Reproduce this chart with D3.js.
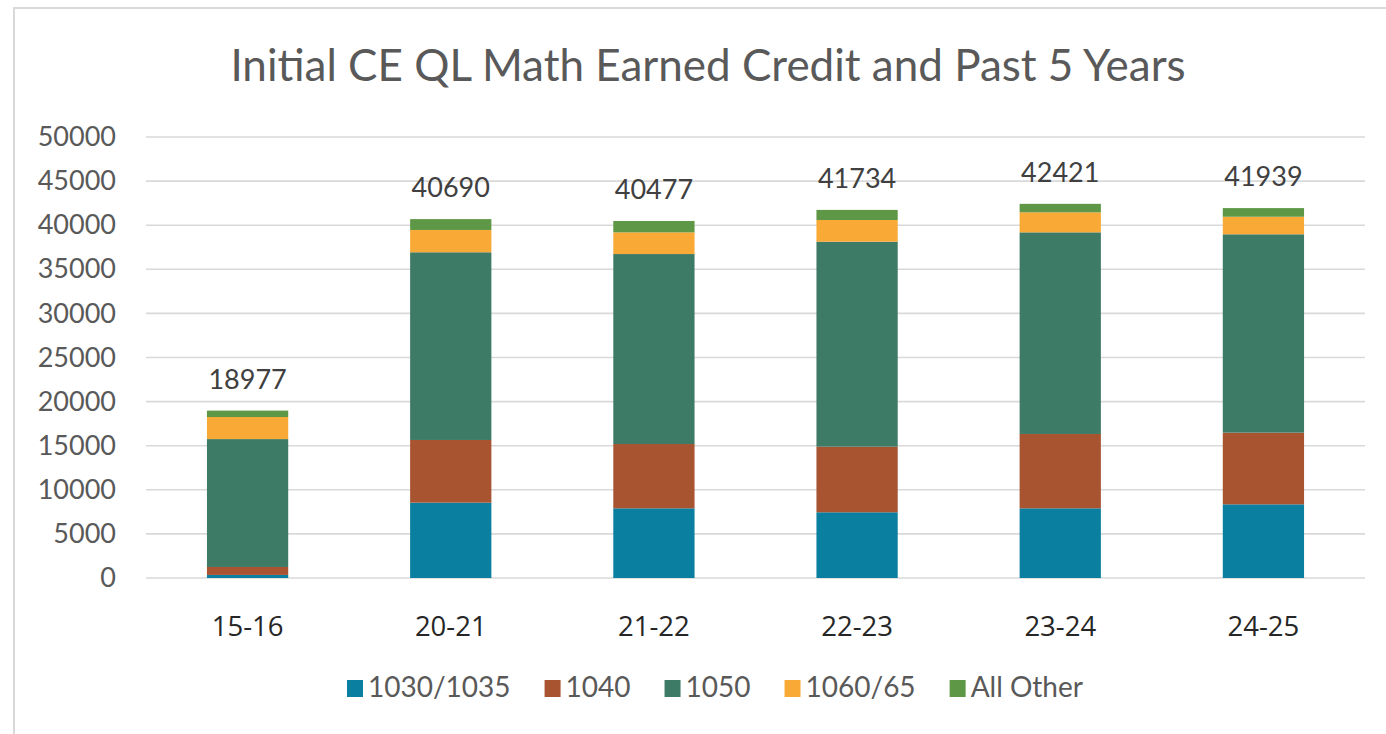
<!DOCTYPE html>
<html>
<head>
<meta charset="utf-8">
<script src="https://cdn.jsdelivr.net/npm/d3@7"></script>
<style>
  body { margin: 0; background: #fff; }
  svg { display: block; }
</style>
</head>
<body>
<div id="chart"></div>
<script>
const years = ["15-16", "20-21", "21-22", "22-23", "23-24", "24-25"];
const seriesNames = ["1030/1035", "1040", "1050", "1060/65", "All Other"];
const seriesColors = ["#0a7fa0", "#a85431", "#3e7b67", "#f9aa36", "#5e9846"];

// one array per series, same order as years
const v1030 = [350, 8540, 7900, 7450, 7900, 8350];
const v1040 = [900, 7110, 7290, 7440, 8430, 8130];
const v1050 = [14500, 21280, 21540, 23240, 22860, 22490];
const v1060 = [2500, 2530, 2460, 2460, 2270, 1990];
const vOther = [727, 1230, 1287, 1144, 961, 979];
const totals = [18977, 40690, 40477, 41734, 42421, 41939];

const yTicks = [0, 5000, 10000, 15000, 20000, 25000, 30000, 35000, 40000, 45000, 50000];

const width = 1386;
const height = 734;
const plot = { left: 146, right: 1365, top: 137, bottom: 578 };

const svg = d3.select("#chart")
  .append("svg")
  .attr("width", width)
  .attr("height", height);

// chart frame (only left/top edges visible in the picture)
svg.append("path")
  .attr("d", `M14,${height} L14,8 L${width},8`)
  .attr("fill", "none")
  .attr("stroke", "#d9d9d9")
  .attr("stroke-width", 2);

const rows = years.map((y, i) => ({
  year: y,
  "1030/1035": v1030[i],
  "1040": v1040[i],
  "1050": v1050[i],
  "1060/65": v1060[i],
  "All Other": vOther[i],
  total: totals[i]
}));

const x = d3.scaleBand()
  .domain(years)
  .range([plot.left, plot.right])
  .padding(0);

const y = d3.scaleLinear()
  .domain([0, 50000])
  .range([plot.bottom, plot.top]);

const color = d3.scaleOrdinal().domain(seriesNames).range(seriesColors);

// gridlines
svg.append("g")
  .selectAll("line")
  .data(yTicks)
  .enter()
  .append("line")
  .attr("x1", plot.left)
  .attr("x2", plot.right)
  .attr("y1", d => y(d))
  .attr("y2", d => y(d))
  .attr("stroke", "#d9d9d9")
  .attr("stroke-width", 1.6);

// y axis labels
const yAxis = d3.axisLeft(y).tickValues(yTicks).tickSize(0).tickPadding(30).tickFormat(d3.format("d"));
svg.append("g")
  .attr("transform", `translate(${plot.left},0)`)
  .call(yAxis)
  .call(g => g.select(".domain").remove())
  .call(g => g.selectAll("text")
    .attr("font-family", "Lato, sans-serif")
    .attr("font-size", 27)
    .attr("fill", "#595959"));

// stacked bars
const stack = d3.stack().keys(seriesNames);
const layers = stack(rows);
const barW = x.bandwidth() * 0.4;

svg.append("g")
  .selectAll("g")
  .data(layers)
  .enter()
  .append("g")
  .attr("fill", d => color(d.key))
  .selectAll("rect")
  .data(d => d)
  .enter()
  .append("rect")
  .attr("x", d => x(d.data.year) + (x.bandwidth() - barW) / 2)
  .attr("y", d => y(d[1]))
  .attr("width", barW)
  .attr("height", d => y(d[0]) - y(d[1]));

// total labels
svg.append("g")
  .selectAll("text")
  .data(rows)
  .enter()
  .append("text")
  .attr("x", d => x(d.year) + x.bandwidth() / 2)
  .attr("y", d => y(d.total) - 22)
  .attr("text-anchor", "middle")
  .attr("font-family", "Lato, sans-serif")
  .attr("font-size", 27)
  .attr("fill", "#404040")
  .text(d => d.total);

// x axis labels
svg.append("g")
  .selectAll("text")
  .data(years)
  .enter()
  .append("text")
  .attr("x", d => x(d) + x.bandwidth() / 2)
  .attr("y", 636)
  .attr("text-anchor", "middle")
  .attr("font-family", "'Open Sans', sans-serif")
  .attr("font-size", 27.5)
  .attr("fill", "#262626")
  .text(d => d);

// title
svg.append("text")
  .attr("x", 708)
  .attr("y", 81)
  .attr("text-anchor", "middle")
  .attr("font-family", "Lato, sans-serif")
  .attr("font-size", 44)
  .attr("fill", "#595959")
  .text("Initial CE QL Math Earned Credit and Past 5 Years");

// legend
const legend = svg.append("g");
let lx = 347;
seriesNames.forEach(name => {
  const item = legend.append("g").attr("transform", `translate(${lx},0)`);
  item.append("rect")
    .attr("x", 0)
    .attr("y", 680)
    .attr("width", 16)
    .attr("height", 17)
    .attr("fill", color(name));
  const t = item.append("text")
    .attr("x", 21)
    .attr("y", 697)
    .attr("font-family", "Lato, sans-serif")
    .attr("font-size", 28)
    .attr("fill", "#595959")
    .text(name);
  lx += 21 + t.node().getComputedTextLength() + 34;
});
</script>
</body>
</html>
